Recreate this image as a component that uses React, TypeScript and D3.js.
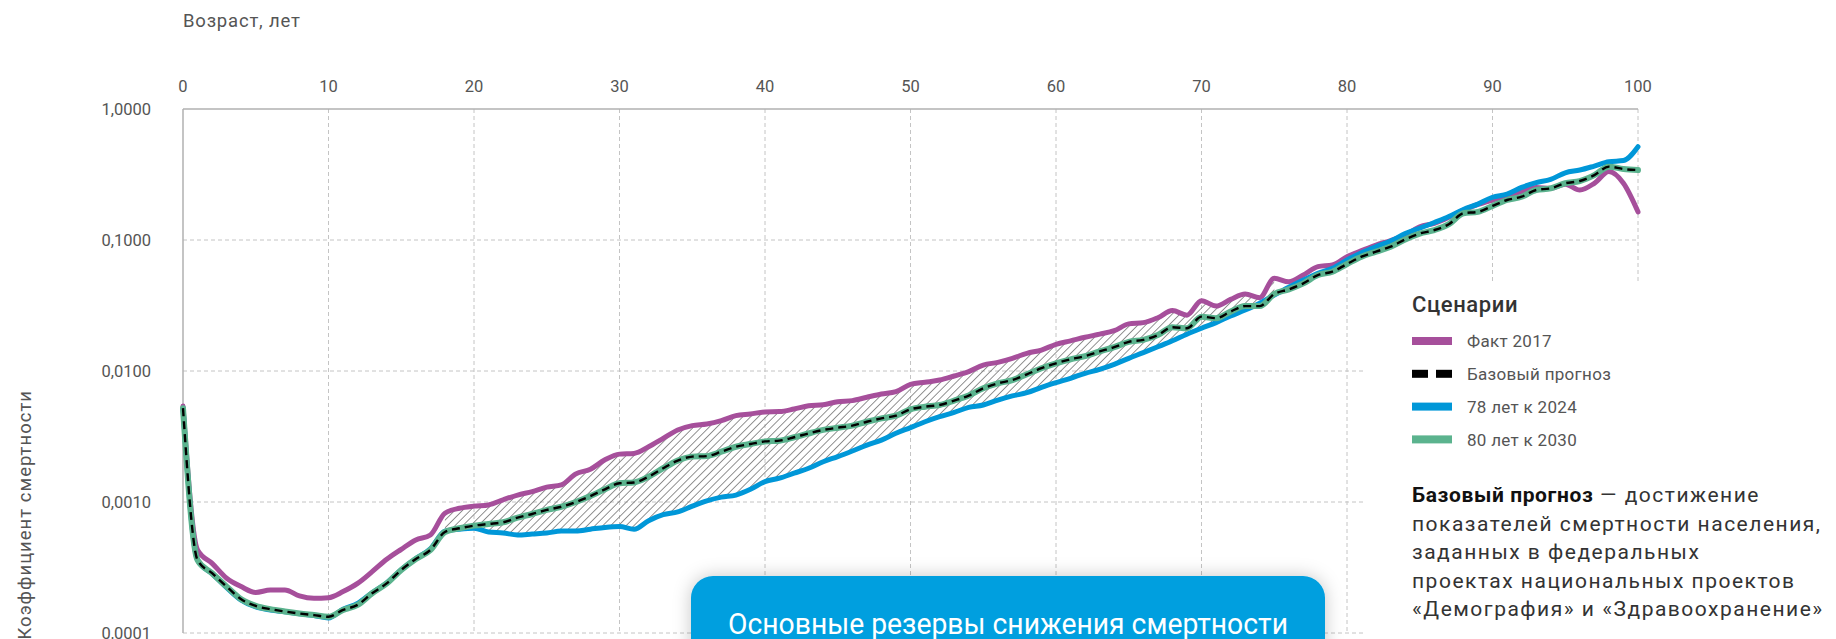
import * as d3 from "d3";

const ages = d3.range(0, 101);

const fact2017 = [
  0.0054, 0.00043, 0.00034, 0.000262, 0.000226, 0.000204, 0.000213, 0.000213, 0.000192, 0.000184,
  0.000186, 0.000207, 0.000239, 0.000294, 0.000365, 0.000435, 0.000513, 0.00056, 0.00082, 0.000896,
  0.00093, 0.00095, 0.00104, 0.00113, 0.0012, 0.0013, 0.00135, 0.00164, 0.00178, 0.0021,
  0.00232, 0.00235, 0.00264, 0.00306, 0.00355, 0.00383, 0.00394, 0.00418, 0.00456, 0.0047,
  0.00487, 0.0049, 0.00513, 0.00543, 0.00553, 0.00583, 0.00594, 0.0063, 0.00667, 0.00695,
  0.0079, 0.0082, 0.00853, 0.00916, 0.00989, 0.0111, 0.01164, 0.0125, 0.01365, 0.01446,
  0.016, 0.017, 0.0181, 0.0191, 0.0203, 0.0229, 0.0234, 0.0255, 0.0289, 0.0267,
  0.0344, 0.0313, 0.0352, 0.0387, 0.0363, 0.051, 0.048, 0.054, 0.0626, 0.0645,
  0.0746, 0.0829, 0.0916, 0.0989, 0.109, 0.126, 0.134, 0.149, 0.169, 0.187,
  0.202, 0.217, 0.234, 0.252, 0.248, 0.267, 0.241, 0.271, 0.333, 0.271,
  0.164,
];

const target2030 = [
  0.0052, 0.00036, 0.000286, 0.000226, 0.000181, 0.000161, 0.000152, 0.000146, 0.000141, 0.000137,
  0.000133, 0.00015, 0.000164, 0.000201, 0.000239, 0.000303, 0.000367, 0.00043, 0.00059, 0.00063,
  0.00066, 0.00068, 0.0007, 0.00076, 0.00081, 0.00087, 0.00092, 0.001, 0.00111, 0.00125,
  0.00139, 0.00141, 0.00156, 0.00181, 0.00207, 0.00222, 0.00224, 0.00242, 0.00264, 0.00277,
  0.0029, 0.00294, 0.00312, 0.00334, 0.00355, 0.00369, 0.00383, 0.0041, 0.00435, 0.00456,
  0.0051, 0.00534, 0.0055, 0.00594, 0.00649, 0.00738, 0.00805, 0.00853, 0.00944, 0.0105,
  0.01145, 0.01228, 0.013, 0.0141, 0.0152, 0.0167, 0.0173, 0.0188, 0.0216, 0.0212,
  0.026, 0.0253, 0.0284, 0.0313, 0.0313, 0.0387, 0.042, 0.0467, 0.054, 0.0573,
  0.0656, 0.0746, 0.0815, 0.089, 0.101, 0.112, 0.119, 0.132, 0.16, 0.164,
  0.182, 0.202, 0.214, 0.241, 0.248, 0.271, 0.282, 0.313, 0.363, 0.348,
  0.342,
];

// base forecast coincides with the 2030 scenario
const baseForecast = target2030;

const target2024 = [
  0.0052, 0.00036, 0.000284, 0.000222, 0.000178, 0.000158, 0.00015, 0.000145, 0.00014, 0.000136,
  0.00013, 0.000152, 0.000168, 0.000203, 0.000241, 0.000305, 0.00037, 0.00044, 0.0006, 0.00062,
  0.00063, 0.00059, 0.00058, 0.00056, 0.00057, 0.00058, 0.0006, 0.0006, 0.00062, 0.00064,
  0.00065, 0.00062, 0.00072, 0.0008, 0.00084, 0.00093, 0.00102, 0.00109, 0.00113, 0.00125,
  0.00143, 0.00152, 0.00166, 0.00181, 0.00203, 0.00222, 0.00245, 0.00272, 0.00297, 0.00335,
  0.0037, 0.0041, 0.00448, 0.00483, 0.00528, 0.0055, 0.006, 0.00645, 0.00683, 0.0075,
  0.00815, 0.0088, 0.0096, 0.0103, 0.01125, 0.0125, 0.0138, 0.0153, 0.017, 0.0191,
  0.0212, 0.0234, 0.0263, 0.0292, 0.0329, 0.038, 0.0436, 0.0495, 0.0557, 0.0608,
  0.0704, 0.08, 0.089, 0.098, 0.112, 0.123, 0.136, 0.151, 0.171, 0.188,
  0.212, 0.224, 0.252, 0.274, 0.29, 0.326, 0.342, 0.367, 0.396, 0.404,
  0.515,
];

const xTicks = [0, 10, 20, 30, 40, 50, 60, 70, 80, 90, 100];
const yTicks = [1, 0.1, 0.01, 0.001, 0.0001];
const yTickLabels = ["1,0000", "0,1000", "0,0100", "0,0010", "0,0001"];
const hatchRange = [18, 75];

const legendItems = [
  { label: "Факт 2017", color: "#a64f9b", dashed: false },
  { label: "Базовый прогноз", color: "#000", dashed: true },
  { label: "78 лет к 2024", color: "#0097d8", dashed: false },
  { label: "80 лет к 2030", color: "#5bb38e", dashed: false },
];

const noteLines = [
  "показателей смертности населения,",
  "заданных в федеральных",
  "проектах национальных проектов",
  "«Демография» и «Здравоохранение»",
];

const W = 1836;
const H = 639;
const FONT = "Roboto, 'DejaVu Sans', sans-serif";

export default function App() {
  const x = d3.scaleLinear().domain([0, 100]).range([183, 1638]);
  const y = d3.scaleLog().domain([0.0001, 1]).range([633, 109]);

  const line = (vals: number[]) =>
    d3
      .line<number>()
      .x((_, i) => x(ages[i]))
      .y((d) => y(d))
      .curve(d3.curveMonotoneX)(vals) ?? "";

  const hatchIdx = ages.filter((a) => a >= hatchRange[0] && a <= hatchRange[1]);
  const hatchPath =
    d3
      .area<number>()
      .x((a) => x(a))
      .y0((a) => y(target2024[a]))
      .y1((a) => y(fact2017[a]))
      .curve(d3.curveMonotoneX)(hatchIdx) ?? "";

  const [x0, x1] = x.range();
  const [yb, yt] = y.range();

  return (
    <svg
      width={W}
      height={H}
      style={{ position: "absolute", left: 0, top: 0, background: "#fff" }}
      fontFamily={FONT}
    >
      <defs>
        <pattern id="hatch" width="5.5" height="5.5" patternUnits="userSpaceOnUse" patternTransform="rotate(45)">
          <line x1="0" y1="0" x2="0" y2="5.5" stroke="#6e6e6e" strokeWidth="1.5" />
        </pattern>
        <filter id="shadow" x="-20%" y="-50%" width="140%" height="200%">
          <feDropShadow dx="0" dy="0" stdDeviation="9" floodColor="#000" floodOpacity="0.22" />
        </filter>
      </defs>

      {/* axis titles */}
      <text x={183} y={27} fontSize={18.5} fill="#555" letterSpacing={0.8}>
        Возраст, лет
      </text>
      <text
        transform="translate(31,390) rotate(-90)"
        textAnchor="end"
        fontSize={18.5}
        fill="#555"
        letterSpacing={1}
      >
        Коэффициент смертности
      </text>

      {/* grid */}
      {xTicks.map((t) => (
        <g key={"x" + t}>
          {t > 0 && (
            <line x1={x(t)} x2={x(t)} y1={yt} y2={yb} stroke="#c4c4c4" strokeDasharray="4,3" strokeWidth={1} />
          )}
          <text x={x(t)} y={92} textAnchor="middle" fontSize={16.5} fill="#555">
            {t}
          </text>
        </g>
      ))}
      {yTicks.map((t, i) => (
        <g key={"y" + t}>
          {t < 1 && (
            <line x1={x0} x2={x1} y1={y(t)} y2={y(t)} stroke="#c4c4c4" strokeDasharray="4,3" strokeWidth={1} />
          )}
          <text x={151} y={y(t)} dy="0.36em" textAnchor="end" fontSize={16.5} fill="#555">
            {yTickLabels[i]}
          </text>
        </g>
      ))}
      <line x1={x0} x2={x1} y1={yt} y2={yt} stroke="#b0b0b0" strokeWidth={1.5} />
      <line x1={x0} x2={x0} y1={yt} y2={yb} stroke="#b0b0b0" strokeWidth={1.5} />

      {/* hatched reserve area */}
      <path d={hatchPath} fill="url(#hatch)" stroke="none" />

      {/* series */}
      <path d={line(fact2017)} fill="none" stroke="#a64f9b" strokeWidth={5} strokeLinejoin="round" strokeLinecap="round" />
      <path d={line(target2024)} fill="none" stroke="#0097d8" strokeWidth={5} strokeLinejoin="round" strokeLinecap="round" />
      <path d={line(target2030)} fill="none" stroke="#5bb38e" strokeWidth={6} strokeLinejoin="round" strokeLinecap="round" />
      <path d={line(baseForecast)} fill="none" stroke="#000" strokeWidth={2.4} strokeDasharray="8,5" />

      {/* legend */}
      <rect x={1366} y={282} width={W - 1366} height={H - 282} fill="#fff" />
      <text x={1412} y={312} fontSize={22} fontWeight={500} fill="#333" letterSpacing={0.6}>
        Сценарии
      </text>
      {legendItems.map((d, i) => {
        const cy = 341 + i * 32.8;
        return (
          <g key={d.label}>
            {d.dashed ? (
              <>
                <rect x={1412} y={cy - 4} width={16} height={8} fill={d.color} />
                <rect x={1436} y={cy - 4} width={16} height={8} fill={d.color} />
              </>
            ) : (
              <rect x={1412} y={cy - 4} width={40} height={8} fill={d.color} />
            )}
            <text x={1467} y={cy} dy="0.36em" fontSize={17} fill="#555" letterSpacing={0.3}>
              {d.label}
            </text>
          </g>
        );
      })}

      {/* note */}
      <text x={1412} y={502} fontSize={21} fill="#333" letterSpacing={1.5}>
        <tspan fontWeight={700} fill="#111" letterSpacing={0.6}>
          Базовый прогноз
        </tspan>
        <tspan> — достижение</tspan>
      </text>
      {noteLines.map((l, i) => (
        <text key={l} x={1412} y={530.5 + i * 28.6} fontSize={21} fill="#333" letterSpacing={1.5}>
          {l}
        </text>
      ))}

      {/* callout */}
      <rect x={691} y={576} width={634} height={110} rx={22} fill="#009fdf" filter="url(#shadow)" />
      <text x={1008} y={634} textAnchor="middle" fontSize={29} fill="#fff" textLength={560} lengthAdjust="spacingAndGlyphs">
        Основные резервы снижения смертности
      </text>
    </svg>
  );
}
